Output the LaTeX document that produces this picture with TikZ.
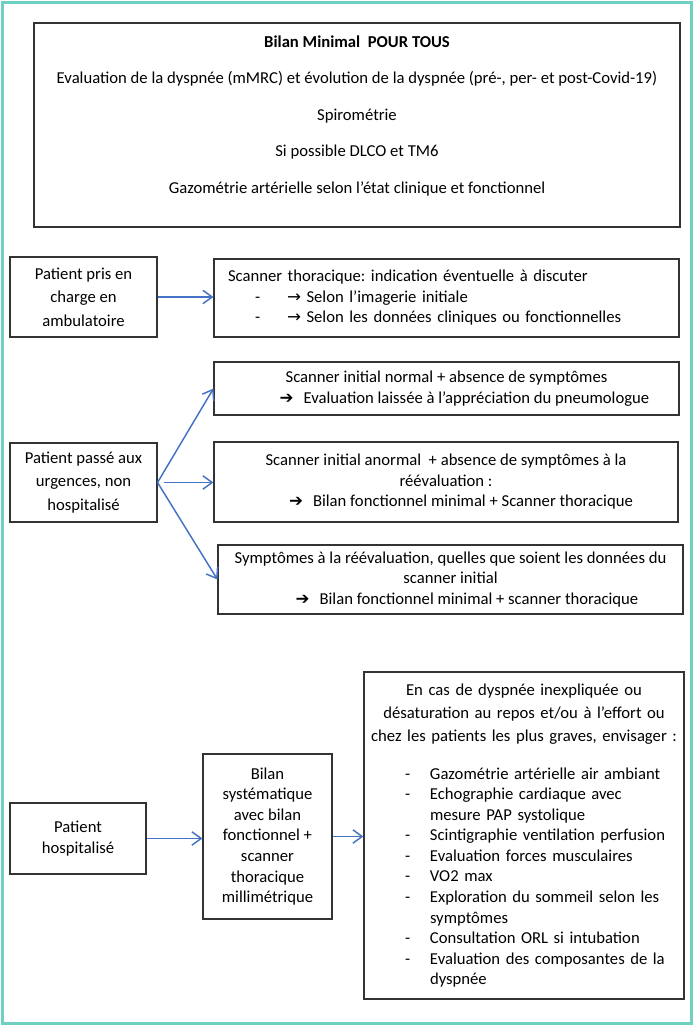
\documentclass[tikz,border=0pt]{standalone}
\usepackage{fontspec}
\setmainfont{Carlito}
\newfontfamily\symfont{DejaVu Sans}
\usepackage{tikz}
\usetikzlibrary{positioning,arrows.meta}
\frenchspacing

\newcommand{\pxu}{0.75pt}
\newcommand{\fleche}{{\symfont →}}
\newcommand{\flechegras}{{\symfont ➔}}
\newcommand{\tiret}{\hspace*{30.75pt}\makebox[18.75pt][l]{-}}
\newcommand{\retrait}{\hspace*{49.5pt}}
\definecolor{cadre}{RGB}{110,208,193}
\definecolor{bleulien}{RGB}{68,114,196}

\begin{document}
\begin{tikzpicture}[x=0.75pt, y=-0.75pt, inner sep=0pt, font=\fontsize{12.5}{15.4}\selectfont]
  % Styles
  \tikzstyle{boite}=[rectangle, draw=black!80, line width=0.8pt, align=center]
  \tikzstyle{lien}=[draw=bleulien, line width=1.1pt, -{Straight Barb[length=7pt,width=10pt]}]

  \useasboundingbox (0,0) rectangle (694,1026);
  \draw[cadre, line width=2.25pt] (2.5,2.5) rectangle (691.5,1023.5);

  % Bilan pour tous
  \node[boite, line width=1pt, minimum width=646*\pxu, minimum height=204*\pxu, text depth=16pt, font=\fontsize{12.5}{27.4}\selectfont] (tous) at (357,125)
    {\textbf{Bilan Minimal\ \ POUR TOUS}\\
     Evaluation de la dyspnée (mMRC) et évolution de la dyspnée (pré-, per- et post-Covid-19)\\
     Spirométrie\\
     Si possible DLCO et TM6\\
     Gazométrie artérielle selon l’état clinique et fonctionnel};

  % Ambulatoire
  \node[boite, minimum width=147*\pxu, minimum height=80*\pxu, font=\fontsize{12.5}{17.6}\selectfont] (ambu) at (83.5,297)
    {Patient pris en\\charge en\\ambulatoire};
  \node[boite, align=left, minimum width=465*\pxu, minimum height=78*\pxu, text width=437*\pxu] (thorax) at (446.5,298)
    {Scanner thoracique: indication éventuelle à discuter\\
     \hspace*{20.25pt}\makebox[24pt][l]{-}\fleche\ Selon l’imagerie initiale\\
     \hspace*{20.25pt}\makebox[24pt][l]{-}\fleche\ Selon les données cliniques ou fonctionnelles};

  % Urgences
  \node[boite, minimum width=147*\pxu, minimum height=79*\pxu, font=\fontsize{12.5}{17.6}\selectfont] (urg) at (83.5,482.5)
    {Patient passé aux\\urgences, non\\hospitalisé};
  \node[boite, minimum width=465*\pxu, minimum height=53*\pxu] (normal) at (446.5,388.5)
    {Scanner initial normal + absence de symptômes\\
     \hspace*{27pt}\flechegras\hspace{0.6em}Evaluation laissée à l’appréciation du pneumologue};
  \node[boite, minimum width=464*\pxu, minimum height=80*\pxu] (anormal) at (446,482)
    {Scanner initial anormal\ \ + absence de symptômes à la\\
     réévaluation :\\
     \hspace*{22.5pt}\flechegras\hspace{0.6em}Bilan fonctionnel minimal + Scanner thoracique};
  \node[boite, minimum width=465*\pxu, minimum height=69*\pxu] (sympt) at (450.5,579.5)
    {Symptômes à la réévaluation, quelles que soient les données du\\
     scanner initial\\
     \hspace*{24.75pt}\flechegras\hspace{0.6em}Bilan fonctionnel minimal + scanner thoracique};

  % Hospitalisation
  \node[boite, minimum width=136*\pxu, minimum height=71*\pxu, font=\fontsize{12.5}{15.8}\selectfont] (hosp) at (78,838.5)
    {Patient\\hospitalisé};
  \node[boite, minimum width=129*\pxu, minimum height=165*\pxu] (bilan) at (267.5,836.5)
    {Bilan\\systématique\\avec bilan\\fonctionnel +\\scanner\\thoracique\\millimétrique};
  \node[boite, align=left, minimum width=320*\pxu, minimum height=327*\pxu, text width=240pt] (envis) at (524,835.5)
    {\makebox[240pt]{En cas de dyspnée inexpliquée ou}\\[1.9pt]
     \makebox[240pt]{désaturation au repos et/ou à l’effort ou}\\[1.9pt]
     \makebox[240pt]{chez les patients les plus graves, envisager :}\\[13pt]
     \tiret Gazométrie artérielle air ambiant\\
     \tiret Echographie cardiaque avec\\
     \retrait mesure PAP systolique\\
     \tiret Scintigraphie ventilation perfusion\\
     \tiret Evaluation forces musculaires\\
     \tiret VO2 max\\
     \tiret Exploration du sommeil selon les\\
     \retrait symptômes\\
     \tiret Consultation ORL si intubation\\
     \tiret Evaluation des composantes de la\\
     \retrait dyspnée};

  % Arrows
  \draw[lien] (ambu.east) -- (ambu.east -| thorax.west);
  \draw[lien] (urg.east) -- (normal.west);
  \draw[lien, shorten <=4.5pt] (urg.east) -- (urg.east -| anormal.west);
  \draw[lien] (urg.east) -- (sympt.west);
  \draw[lien] (hosp.east) -- (hosp.east -| bilan.west);
  \draw[lien] (bilan.east) -- (bilan.east -| envis.west);
\end{tikzpicture}
\end{document}
